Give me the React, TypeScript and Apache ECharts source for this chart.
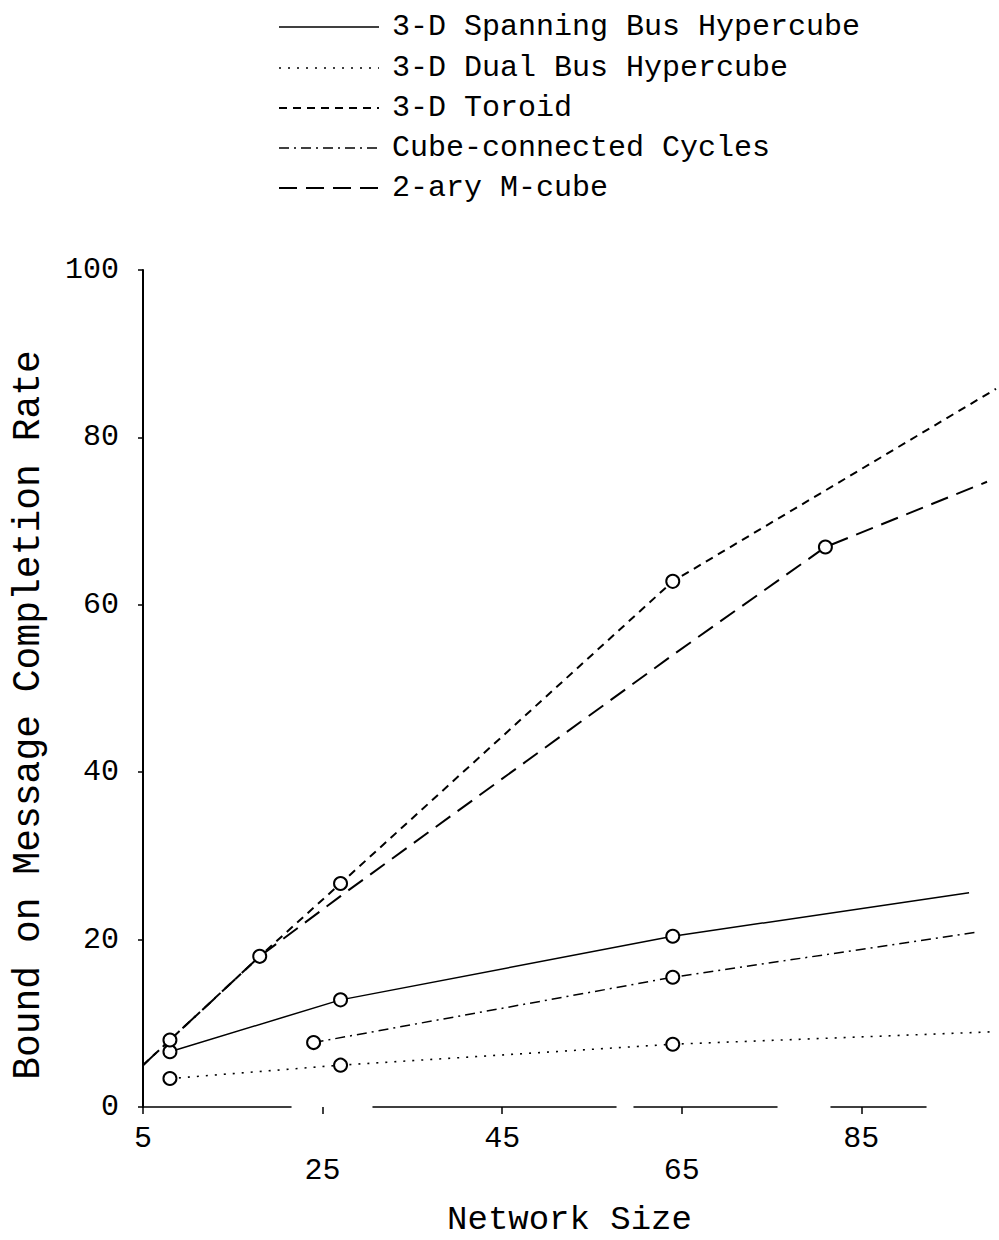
import React, { useEffect, useRef } from "react";
import * as echarts from "echarts";

const seriesNames = [
  "3-D Spanning Bus Hypercube",
  "3-D Dual Bus Hypercube",
  "3-D Toroid",
  "Cube-connected Cycles",
  "2-ary M-cube",
];

const spanningX = [8, 27, 64, 97];
const spanningY = [6.6, 12.8, 20.4, 25.6];
const spanningMarked = [1, 1, 1, 0];

const dualX = [8, 27, 64, 100];
const dualY = [3.4, 5.0, 7.5, 9.0];
const dualMarked = [1, 1, 1, 0];

const toroidX = [5, 8, 18, 27, 64, 100];
const toroidY = [5, 8, 18, 26.7, 62.8, 85.8];
const toroidMarked = [0, 1, 1, 1, 1, 0];

const cccX = [24, 64, 98];
const cccY = [7.7, 15.5, 20.9];
const cccMarked = [1, 1, 0];

const mcubeX = [5, 8, 18, 27, 64, 81, 99];
const mcubeY = [5, 8, 18, 25.2, 54, 66.9, 74.7];
const mcubeMarked = [0, 0, 0, 0, 0, 1, 0];

const xTickValues = [5, 25, 45, 65, 85];
const xAxisTitle = "Network Size";
const yAxisTitle = "Bound on Message Completion Rate";

const FONT = '"Liberation Mono", "DejaVu Sans Mono", monospace';

const lineStyles: any[] = [
  { type: "solid", width: 1.5 },
  { type: [2, 7], width: 1.6 },
  { type: [8, 6], width: 2 },
  { type: [10, 5, 2, 5], width: 1.5 },
  { type: [18, 9], width: 2 },
];

const toDash = (t: any) => (t === "solid" ? null : t);

function buildData(xs: number[], ys: number[], marked: number[]) {
  return xs.map((x, i) =>
    marked[i] ? { value: [x, ys[i]] } : { value: [x, ys[i]], symbol: "none" }
  );
}

export default function App() {
  const ref = useRef<HTMLDivElement>(null);

  useEffect(() => {
    if (!ref.current) return;
    const chart = echarts.init(ref.current, undefined, { renderer: "svg" });

    const datasets = [
      buildData(spanningX, spanningY, spanningMarked),
      buildData(dualX, dualY, dualMarked),
      buildData(toroidX, toroidY, toroidMarked),
      buildData(cccX, cccY, cccMarked),
      buildData(mcubeX, mcubeY, mcubeMarked),
    ];

    const legendRowsY = [27, 68, 108, 148, 188];
    const legendGraphics: any[] = [];
    seriesNames.forEach((name, i) => {
      const ls = lineStyles[i];
      legendGraphics.push({
        type: "line",
        shape: { x1: 279, y1: legendRowsY[i], x2: 379, y2: legendRowsY[i] },
        style: {
          stroke: "#000",
          lineWidth: ls.width,
          lineDash: toDash(ls.type),
        },
      });
      legendGraphics.push({
        type: "text",
        x: 392,
        y: legendRowsY[i],
        style: {
          text: name,
          fontFamily: FONT,
          fontSize: 30,
          fill: "#000",
          verticalAlign: "middle",
          align: "left",
        },
      });
    });

    legendGraphics.push({
      type: "text",
      x: 28,
      y: 715,
      rotation: Math.PI / 2,
      style: {
        text: yAxisTitle,
        fontFamily: FONT,
        fontSize: 38,
        fill: "#000",
        align: "center",
        verticalAlign: "middle",
      },
    });

    const option: any = {
      animation: false,
      backgroundColor: "#fff",
      grid: {
        left: 143,
        right: 3,
        top: 270,
        bottom: 133,
        containLabel: false,
        outerBoundsMode: "none",
      },
      xAxis: {
        type: "value",
        min: 5,
        max: 100,
        name: xAxisTitle,
        nameLocation: "middle",
        nameGap: 96,
        nameTextStyle: { fontFamily: FONT, fontSize: 34, color: "#000" },
        splitLine: { show: false },
        axisLine: {
          show: true,
          onZero: false,
          lineStyle: { color: "#000", width: 1.5, type: [148, 82, 243, 18, 143, 54, 95, 200] },
        },
        axisTick: {
          show: true,
          length: 7,
          customValues: xTickValues,
          lineStyle: { color: "#000", width: 1.5 },
        },
        axisLabel: {
          customValues: xTickValues,
          margin: 16,
          fontFamily: FONT,
          fontSize: 30,
          lineHeight: 32,
          color: "#000",
          formatter: (v: number) => {
            const idx = xTickValues.indexOf(v);
            return idx % 2 === 1 ? "\n" + v : String(v);
          },
        },
      },
      yAxis: {
        type: "value",
        min: 0,
        max: 100,
        interval: 20,
        splitLine: { show: false },
        axisLine: { show: true, onZero: false, lineStyle: { color: "#000", width: 2 } },
        axisTick: { show: true, length: 5, lineStyle: { color: "#000", width: 1.5 } },
        axisLabel: {
          margin: 24,
          fontFamily: FONT,
          fontSize: 30,
          color: "#000",
        },
      },
      graphic: legendGraphics,
      series: seriesNames.map((name, i) => ({
        name,
        type: "line",
        data: datasets[i],
        symbol: "emptyCircle",
        symbolSize: 13,
        showAllSymbol: true,
        clip: true,
        itemStyle: { color: "#000", borderColor: "#000", borderWidth: 1.5 },
        lineStyle: { color: "#000", width: lineStyles[i].width, type: lineStyles[i].type },
        z: 2,
      })),
    };

    chart.setOption(option);
    return () => chart.dispose();
  }, []);

  return (
    <div
      ref={ref}
      style={{ position: "absolute", left: 0, top: 0, width: 999, height: 1240 }}
    />
  );
}
